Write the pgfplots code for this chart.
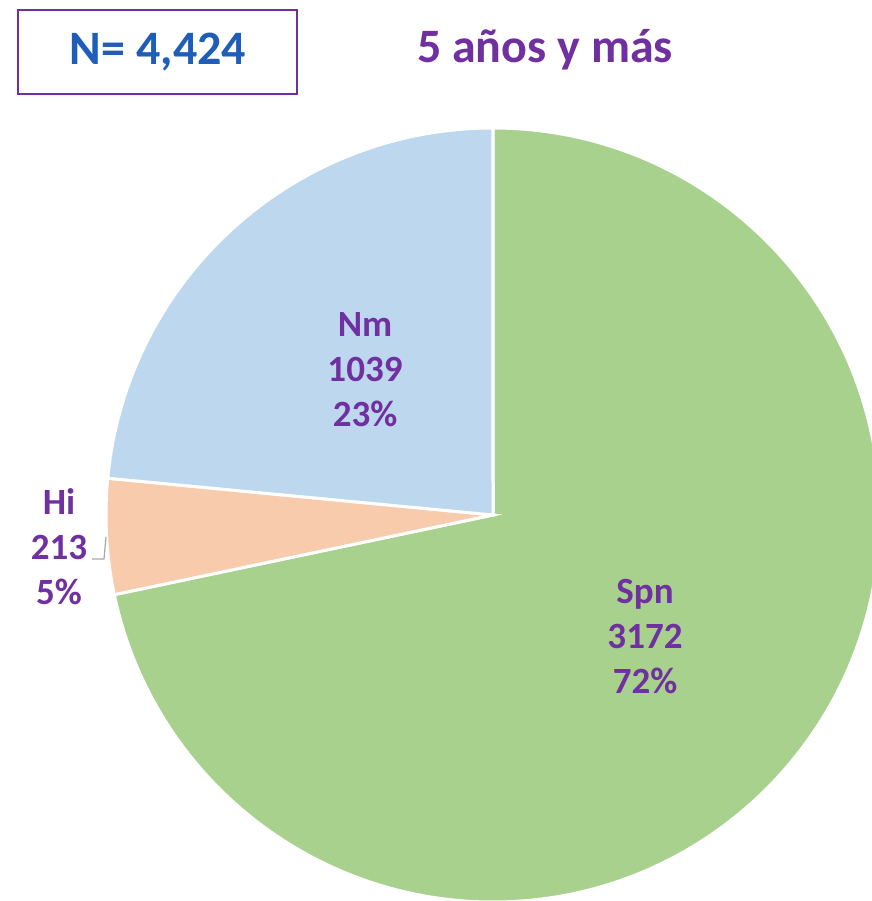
\documentclass[border=0pt]{standalone}
\usepackage{pgfplots}
\pgfplotsset{compat=1.18}
\usepackage{pgfplotstable}
\usepackage{fontspec}
\setmainfont{Carlito}
\definecolor{cgreen}{HTML}{A9D18E}
\definecolor{cpeach}{HTML}{F8CBAD}
\definecolor{cblue}{HTML}{BDD7EE}
\definecolor{cpurple}{HTML}{7030A0}
\definecolor{cnavy}{RGB}{31,94,184}
\pgfplotstableread{
name value
Spn 3172
Hi 213
Nm 1039
}\piedata
\pgfplotstablegetelem{0}{value}\of\piedata \let\vA\pgfplotsretval%
\pgfplotstablegetelem{1}{value}\of\piedata \let\vB\pgfplotsretval%
\pgfplotstablegetelem{2}{value}\of\piedata \let\vC\pgfplotsretval%
\pgfmathsetmacro\tot{\vA+\vB+\vC}%
\pgfmathsetmacro\fA{\vA/\tot}%
\pgfmathsetmacro\fB{\vB/\tot}%
\pgfmathsetmacro\fC{\vC/\tot}%
\pgfmathsetmacro\aA{90-360*\fA}%
\pgfmathsetmacro\aB{\aA-360*\fB}%
\pgfmathsetmacro\aC{\aB-360*\fC}%
\pgfmathtruncatemacro\pA{round(100*\fA)}%
\pgfmathtruncatemacro\pB{round(100*\fB)}%
\pgfmathtruncatemacro\pC{round(100*\fC)}%
\begin{document}%
\begin{tikzpicture}
\begin{axis}[
  scale only axis, width=436pt, height=450.5pt,
  xmin=0, xmax=872, ymin=0, ymax=901,
  hide axis, clip=true,
]
\coordinate (SW) at (rel axis cs:0,0);
\coordinate (NE) at (rel axis cs:1,1);
\def\R{193.5pt}
\fill[cgreen, draw=white, line width=1.5pt] (axis cs:493,386) -- ([shift={(90:\R)}]axis cs:493,386) arc[start angle=90, end angle=\aA, radius=\R] -- cycle;
\fill[cpeach, draw=white, line width=1.5pt] (axis cs:493,386) -- ([shift={(\aA:\R)}]axis cs:493,386) arc[start angle=\aA, end angle=\aB, radius=\R] -- cycle;
\fill[cblue, draw=white, line width=1.5pt] (axis cs:493,386) -- ([shift={(\aB:\R)}]axis cs:493,386) arc[start angle=\aB, end angle=\aC, radius=\R] -- cycle;
\draw[gray!70, line width=0.6pt] (axis cs:92,342) -- (axis cs:104,342) -- (axis cs:106,364);
\node[font=\fontsize{18.5}{22.5}\selectfont\bfseries, text=cpurple, align=center] at (axis cs:645,264) {Spn\\\vA\\\pA\%};
\node[font=\fontsize{18.5}{22.5}\selectfont\bfseries, text=cpurple, align=center] at (axis cs:59,354) {Hi\\\vB\\\pB\%};
\node[font=\fontsize{18.5}{22.5}\selectfont\bfseries, text=cpurple, align=center] at (axis cs:365,531) {Nm\\\vC\\\pC\%};
\draw[cpurple, line width=1pt] (axis cs:18,807) rectangle (axis cs:297,891);
\node[font=\fontsize{24}{28}\selectfont\bfseries, text=cnavy] at (axis cs:158,849) {N= 4,424};
\node[font=\fontsize{24}{28}\selectfont\bfseries, text=cpurple] at (axis cs:545,851) {5 años y más};
\end{axis}
\pgfresetboundingbox
\path (SW) rectangle (NE);
\end{tikzpicture}%
\end{document}
